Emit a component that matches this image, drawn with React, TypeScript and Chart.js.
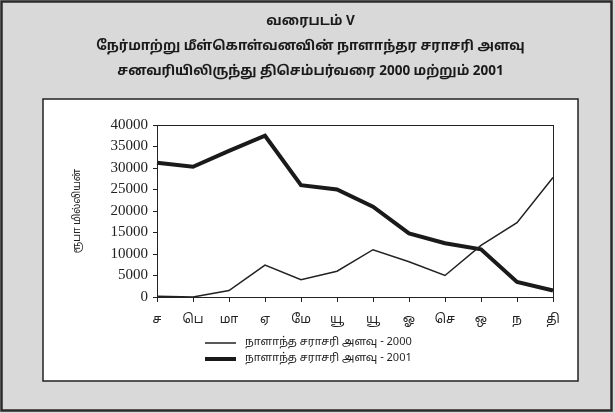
import React, { useEffect, useRef } from "react";
import { Chart, registerables } from "chart.js";

Chart.register(...registerables);

const titleLines = [
  "வரைபடம் V",
  "நேர்மாற்று மீள்கொள்வனவின் நாளாந்தர சராசரி அளவு",
  "சனவரியிலிருந்து திசெம்பர்வரை 2000 மற்றும் 2001",
];
const months = ["ச", "பெ", "மா", "ஏ", "மே", "யூ", "யூ", "ஓ", "செ", "ஒ", "ந", "தி"];
const series2000 = [200, 0, 1500, 7400, 4000, 6000, 11000, 8200, 5000, 12000, 17300, 27800];
const series2001 = [31200, 30300, 34000, 37500, 26000, 25000, 21000, 14800, 12500, 11100, 3500, 1500];
const label2000 = "நாளாந்த சராசரி அளவு - 2000";
const label2001 = "நாளாந்த சராசரி அளவு - 2001";
const yAxisTitle = "ரூபா மில்லியன்";
const yMin = 0;
const yMax = 40000;
const yStep = 5000;

const TAMIL_FONT = "'Noto Sans Tamil', 'Latha', 'Noto Sans', 'DejaVu Sans', sans-serif";

const framePlugin = {
  id: "framePlugin",
  beforeDraw(chart: any) {
    const { ctx, width, height } = chart;
    ctx.save();
    ctx.fillStyle = "#d9d9d9";
    ctx.fillRect(0, 0, width, height);
    ctx.strokeStyle = "#2a2a2a";
    ctx.lineWidth = 2.5;
    ctx.strokeRect(1.5, 1.5, width - 5, height - 4);
    ctx.fillStyle = "#ffffff";
    ctx.fillRect(43, 99, 535, 282);
    ctx.strokeStyle = "#222";
    ctx.lineWidth = 1.5;
    ctx.strokeRect(43, 99, 535, 282);
    ctx.restore();
  },
  afterDraw(chart: any) {
    const { ctx, chartArea } = chart;
    ctx.save();
    ctx.strokeStyle = "#222";
    ctx.lineWidth = 1;
    ctx.strokeRect(
      Math.round(chartArea.left) + 0.5,
      Math.round(chartArea.top) + 0.5,
      Math.round(chartArea.right - chartArea.left),
      Math.round(chartArea.bottom - chartArea.top)
    );
    const ds = chart.data.datasets;
    const rows = [343, 359];
    ds.forEach((d: any, i: number) => {
      const y = rows[i];
      ctx.strokeStyle = d.borderColor;
      ctx.lineWidth = d.borderWidth;
      ctx.beginPath();
      ctx.moveTo(205, y);
      ctx.lineTo(236, y);
      ctx.stroke();
      ctx.fillStyle = "#222";
      ctx.font = "11px " + TAMIL_FONT;
      ctx.textBaseline = "middle";
      ctx.textAlign = "left";
      ctx.fillText(d.label, 245, y);
    });
    ctx.restore();
  },
};

export default function App() {
  const ref = useRef<HTMLCanvasElement | null>(null);
  useEffect(() => {
    if (!ref.current) return;
    const chart = new Chart(ref.current, {
      type: "line",
      data: {
        labels: months,
        datasets: [
          {
            label: label2000,
            data: series2000,
            borderColor: "#222",
            borderWidth: 1.5,
            pointRadius: 0,
            tension: 0,
            fill: false,
          },
          {
            label: label2001,
            data: series2001,
            borderColor: "#1a1a1a",
            borderWidth: 4,
            pointRadius: 0,
            tension: 0,
            fill: false,
          },
        ],
      },
      options: {
        animation: false,
        responsive: false,
        maintainAspectRatio: false,
        layout: { padding: { left: 68, right: 62, top: 0, bottom: 80 } },
        plugins: {
          legend: { display: false },
          tooltip: { enabled: false },
          title: {
            display: true,
            text: titleLines,
            color: "#1a1a1a",
            font: { family: TAMIL_FONT, size: 13.5, weight: "bold", lineHeight: 25 / 13.5 },
            padding: { top: 9.5, bottom: 40.5 },
          },
        },
        scales: {
          x: {
            offset: false,
            grid: { display: true, drawOnChartArea: false, drawTicks: true, tickLength: 5, color: "#222" },
            border: { display: true, color: "#222", width: 1 },
            ticks: { color: "#222", font: { family: TAMIL_FONT, size: 12.5 }, padding: 11, maxRotation: 0, autoSkip: false },
            afterFit: (s: any) => {
              s.height = 36;
            },
          },
          y: {
            min: yMin,
            max: yMax,
            grid: { display: true, drawOnChartArea: false, drawTicks: true, tickLength: 4, color: "#222" },
            border: { display: true, color: "#222", width: 1 },
            ticks: {
              stepSize: yStep,
              color: "#222",
              padding: 5,
              font: { family: "'Liberation Serif', 'Times New Roman', serif", size: 15 },
              callback: (v: any) => String(v),
            },
            title: {
              display: true,
              text: yAxisTitle,
              color: "#222",
              font: { family: TAMIL_FONT, size: 10 },
              padding: { top: 4, bottom: 0 },
            },
            afterFit: (s: any) => {
              s.width = 89;
            },
          },
        },
      },
      plugins: [framePlugin],
    });
    return () => chart.destroy();
  }, []);
  return (
    <div style={{ position: "absolute", left: 0, top: 0, width: 615, height: 413 }}>
      <canvas ref={ref} width={615} height={413} style={{ width: 615, height: 413, display: "block" }} />
    </div>
  );
}
